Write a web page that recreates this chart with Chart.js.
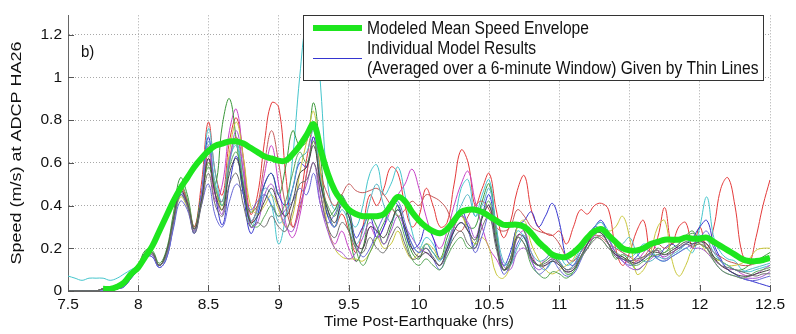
<!DOCTYPE html>
<html>
<head>
<meta charset="utf-8">
<script src="https://cdn.jsdelivr.net/npm/chart.js@4.4.1/dist/chart.umd.min.js"></script>
<style>
  html, body { margin: 0; padding: 0; background: #fff; }
  #wrap { width: 796px; height: 334px; }
</style>
</head>
<body>
<div id="wrap"><canvas id="chart-1" width="796" height="334"></canvas></div>
<script>
// time axis, hours post-earthquake, 0.05 h steps
const times = [7.5,7.55,7.6,7.65,7.7,7.75,7.8,7.85,7.9,7.95,
  8.0,8.05,8.1,8.15,8.2,8.25,8.3,8.35,8.4,8.45,
  8.5,8.55,8.6,8.65,8.7,8.75,8.8,8.85,8.9,8.95,
  9.0,9.05,9.1,9.15,9.2,9.25,9.3,9.35,9.4,9.45,
  9.5,9.55,9.6,9.65,9.7,9.75,9.8,9.85,9.9,9.95,
  10.0,10.05,10.1,10.15,10.2,10.25,10.3,10.35,10.4,10.45,
  10.5,10.55,10.6,10.65,10.7,10.75,10.8,10.85,10.9,10.95,
  11.0,11.05,11.1,11.15,11.2,11.25,11.3,11.35,11.4,11.45,
  11.5,11.55,11.6,11.65,11.7,11.75,11.8,11.85,11.9,11.95,
  12.0,12.05,12.1,12.15,12.2,12.25,12.3,12.35,12.4,12.45,12.5];

const xTicks = [7.5, 8, 8.5, 9, 9.5, 10, 10.5, 11, 11.5, 12, 12.5];
const yTicks = [0, 0.2, 0.4, 0.6, 0.8, 1, 1.2];

// modeled mean speed envelope (thick green)
const meanSpeed = [null,null,null,null,null,0.01,0.01,0.02,0.04,0.08,
  0.11,0.16,0.21,0.28,0.35,0.42,0.48,0.53,0.58,0.62,
  0.655,0.68,0.69,0.70,0.70,0.69,0.67,0.65,0.63,0.62,
  0.61,0.61,0.64,0.68,0.73,0.78,0.66,0.55,0.47,0.42,
  0.38,0.36,0.35,0.35,0.35,0.36,0.40,0.44,0.42,0.37,
  0.33,0.30,0.28,0.27,0.29,0.33,0.37,0.38,0.38,0.37,
  0.35,0.33,0.31,0.31,0.31,0.30,0.27,0.23,0.20,0.17,
  0.16,0.16,0.18,0.21,0.25,0.28,0.29,0.26,0.23,0.20,
  0.19,0.19,0.20,0.22,0.23,0.24,0.24,0.24,0.25,0.245,
  0.245,0.25,0.23,0.21,0.19,0.17,0.15,0.14,0.14,0.145,0.155];

// individual model results (thin lines)
const runRed = [0,0,0,0,0,0.01,0.01,0.01,0.03,0.07,
  0.11,0.18,0.17,0.12,0.18,0.34,0.49,0.42,0.30,0.50,
  0.79,0.55,0.45,0.70,0.81,0.62,0.36,0.45,0.70,0.88,
  0.86,0.55,0.30,0.42,0.62,0.76,0.55,0.38,0.30,0.36,
  0.28,0.18,0.30,0.45,0.40,0.48,0.58,0.55,0.40,0.30,
  0.35,0.48,0.40,0.30,0.32,0.50,0.66,0.60,0.40,0.48,
  0.55,0.38,0.25,0.32,0.47,0.54,0.38,0.30,0.27,0.26,
  0.28,0.22,0.30,0.38,0.36,0.40,0.41,0.38,0.20,0.12,
  0.18,0.28,0.33,0.18,0.25,0.39,0.22,0.30,0.32,0.20,
  0.30,0.20,0.30,0.48,0.53,0.40,0.18,0.13,0.25,0.40,0.52];

const runGreen = [0,0,0,0,0,0.01,0.01,0.01,0.03,0.08,
  0.12,0.19,0.19,0.13,0.19,0.36,0.53,0.45,0.30,0.45,
  0.58,0.50,0.78,0.90,0.70,0.45,0.37,0.40,0.50,0.55,
  0.45,0.58,0.75,0.68,0.70,0.88,0.62,0.35,0.38,0.45,
  0.30,0.14,0.20,0.35,0.30,0.22,0.30,0.40,0.28,0.18,
  0.15,0.22,0.18,0.15,0.25,0.33,0.36,0.30,0.30,0.42,
  0.50,0.28,0.10,0.15,0.30,0.28,0.15,0.12,0.14,0.16,
  0.13,0.08,0.09,0.15,0.22,0.28,0.27,0.22,0.15,0.17,
  0.14,0.10,0.12,0.16,0.20,0.18,0.22,0.24,0.26,0.28,
  0.22,0.20,0.16,0.14,0.12,0.10,0.10,0.12,0.14,0.16,0.18];

const runMagenta = [0,0,0,0,0,0.01,0.01,0.01,0.03,0.07,
  0.11,0.17,0.17,0.12,0.17,0.33,0.47,0.41,0.29,0.42,
  0.62,0.42,0.50,0.75,0.85,0.60,0.33,0.38,0.55,0.68,
  0.50,0.32,0.25,0.35,0.55,0.72,0.45,0.30,0.22,0.28,
  0.20,0.14,0.20,0.30,0.25,0.30,0.38,0.45,0.50,0.57,
  0.48,0.35,0.25,0.20,0.28,0.40,0.50,0.56,0.42,0.30,
  0.20,0.15,0.10,0.12,0.25,0.28,0.18,0.12,0.15,0.18,
  0.14,0.10,0.12,0.18,0.22,0.25,0.24,0.20,0.17,0.15,
  0.13,0.14,0.18,0.22,0.19,0.15,0.17,0.22,0.26,0.24,
  0.25,0.20,0.15,0.12,0.10,0.10,0.08,0.07,0.08,0.10,0.12];

const runCyan = [0.07,0.06,0.05,0.06,0.06,0.06,0.05,0.06,0.08,0.10,
  0.12,0.17,0.17,0.12,0.17,0.32,0.46,0.40,0.28,0.45,
  0.76,0.55,0.40,0.60,0.70,0.50,0.30,0.36,0.45,0.40,
  0.22,0.35,0.62,1.00,1.28,1.36,0.95,0.50,0.38,0.45,
  0.35,0.30,0.40,0.55,0.59,0.45,0.50,0.58,0.45,0.28,
  0.20,0.25,0.22,0.15,0.18,0.30,0.48,0.52,0.35,0.45,
  0.52,0.30,0.12,0.15,0.28,0.25,0.15,0.12,0.10,0.14,
  0.16,0.12,0.14,0.20,0.26,0.30,0.32,0.28,0.22,0.18,
  0.16,0.18,0.22,0.20,0.15,0.14,0.16,0.18,0.20,0.18,
  0.30,0.44,0.25,0.18,0.15,0.14,0.10,0.09,0.10,0.11,0.12];

const runBlue = [0,0,0,0,0,0,0,0.01,0.02,0.06,
  0.10,0.16,0.16,0.11,0.15,0.30,0.45,0.40,0.27,0.45,
  0.72,0.45,0.31,0.50,0.63,0.45,0.27,0.35,0.50,0.55,
  0.45,0.40,0.48,0.60,0.58,0.72,0.50,0.35,0.30,0.42,
  0.38,0.25,0.30,0.35,0.25,0.30,0.42,0.40,0.28,0.20,
  0.22,0.30,0.25,0.15,0.20,0.30,0.38,0.30,0.20,0.35,
  0.45,0.25,0.12,0.18,0.30,0.33,0.37,0.30,0.35,0.41,
  0.32,0.15,0.12,0.18,0.25,0.30,0.33,0.25,0.18,0.15,
  0.14,0.16,0.20,0.18,0.16,0.20,0.22,0.20,0.22,0.25,
  0.30,0.33,0.22,0.15,0.10,0.08,0.06,0.05,0.04,0.03,0.02];

const runYellow = [0,0,0,0,0,0.01,0.01,0.01,0.03,0.07,
  0.11,0.17,0.17,0.12,0.16,0.31,0.44,0.39,0.28,0.42,
  0.60,0.48,0.38,0.65,0.79,0.62,0.40,0.36,0.40,0.45,
  0.38,0.30,0.35,0.55,0.70,0.84,0.55,0.30,0.20,0.16,
  0.15,0.15,0.14,0.18,0.25,0.20,0.22,0.28,0.20,0.15,
  0.18,0.22,0.20,0.15,0.22,0.30,0.35,0.28,0.22,0.25,
  0.20,0.08,0.06,0.12,0.30,0.33,0.22,0.15,0.10,0.08,
  0.10,0.12,0.15,0.22,0.25,0.28,0.30,0.28,0.30,0.35,
  0.25,0.08,0.10,0.18,0.30,0.33,0.15,0.07,0.12,0.20,
  0.22,0.18,0.15,0.14,0.12,0.12,0.13,0.15,0.19,0.20,0.20];

const runGray = [0,0,0,0,0,0.01,0.01,0.01,0.03,0.07,
  0.11,0.18,0.18,0.12,0.17,0.32,0.45,0.40,0.27,0.40,
  0.55,0.40,0.35,0.50,0.55,0.40,0.30,0.32,0.30,0.35,
  0.30,0.28,0.38,0.50,0.52,0.60,0.45,0.30,0.25,0.32,
  0.28,0.20,0.18,0.25,0.20,0.18,0.25,0.30,0.22,0.15,
  0.16,0.20,0.16,0.12,0.18,0.25,0.28,0.22,0.20,0.30,
  0.35,0.20,0.10,0.15,0.25,0.22,0.15,0.12,0.13,0.15,
  0.13,0.10,0.11,0.16,0.20,0.24,0.26,0.22,0.16,0.15,
  0.14,0.15,0.16,0.18,0.19,0.17,0.18,0.20,0.22,0.21,
  0.22,0.20,0.15,0.12,0.11,0.10,0.09,0.08,0.07,0.08,0.08];

const runBrown = [0,0,0,0,0,0.01,0.01,0.01,0.03,0.07,
  0.11,0.17,0.17,0.12,0.17,0.33,0.48,0.42,0.30,0.42,
  0.65,0.45,0.42,0.62,0.72,0.55,0.32,0.40,0.60,0.75,
  0.60,0.40,0.30,0.38,0.55,0.70,0.55,0.45,0.40,0.45,
  0.50,0.47,0.46,0.47,0.48,0.45,0.40,0.35,0.38,0.42,
  0.40,0.45,0.44,0.42,0.38,0.30,0.28,0.35,0.40,0.42,
  0.38,0.30,0.28,0.30,0.38,0.35,0.30,0.28,0.27,0.26,
  0.22,0.16,0.14,0.18,0.22,0.26,0.25,0.22,0.20,0.18,
  0.16,0.14,0.16,0.20,0.22,0.20,0.22,0.24,0.26,0.25,
  0.24,0.22,0.18,0.16,0.14,0.13,0.12,0.12,0.13,0.14,0.15];

const runViolet = [0,0,0,0,0,0,0.01,0.01,0.02,0.06,
  0.10,0.16,0.16,0.11,0.15,0.29,0.42,0.38,0.27,0.40,
  0.50,0.35,0.30,0.42,0.50,0.45,0.38,0.42,0.45,0.40,
  0.35,0.38,0.42,0.48,0.45,0.55,0.40,0.32,0.36,0.42,
  0.35,0.22,0.16,0.20,0.28,0.35,0.40,0.42,0.32,0.22,
  0.18,0.20,0.15,0.10,0.18,0.28,0.32,0.28,0.18,0.26,
  0.35,0.22,0.08,0.12,0.22,0.26,0.15,0.08,0.10,0.14,
  0.10,0.07,0.08,0.14,0.22,0.30,0.28,0.22,0.17,0.14,
  0.12,0.13,0.15,0.17,0.15,0.14,0.16,0.18,0.20,0.22,
  0.25,0.28,0.20,0.14,0.10,0.08,0.06,0.05,0.05,0.06,0.07];

const runGreen2 = [0,0,0,0,0,0.01,0.01,0.01,0.03,0.08,
  0.12,0.18,0.18,0.12,0.18,0.34,0.50,0.43,0.29,0.42,
  0.60,0.48,0.40,0.58,0.65,0.50,0.32,0.30,0.35,0.40,
  0.35,0.42,0.55,0.65,0.60,0.70,0.50,0.40,0.35,0.44,
  0.38,0.20,0.12,0.18,0.25,0.32,0.38,0.35,0.25,0.15,
  0.12,0.15,0.12,0.10,0.16,0.22,0.25,0.20,0.22,0.35,
  0.42,0.25,0.10,0.12,0.25,0.22,0.12,0.08,0.06,0.09,
  0.08,0.06,0.09,0.15,0.20,0.25,0.24,0.20,0.18,0.16,
  0.13,0.12,0.14,0.16,0.17,0.18,0.20,0.22,0.25,0.27,
  0.24,0.20,0.14,0.10,0.08,0.07,0.06,0.07,0.09,0.10,0.11];

const runPurple = [0,0,0,0,0,0.01,0.01,0.01,0.03,0.07,
  0.11,0.17,0.17,0.12,0.17,0.32,0.46,0.40,0.28,0.44,
  0.68,0.45,0.36,0.60,0.75,0.55,0.30,0.32,0.45,0.50,
  0.40,0.30,0.28,0.40,0.50,0.60,0.40,0.28,0.20,0.18,
  0.15,0.18,0.25,0.32,0.28,0.22,0.28,0.35,0.30,0.25,
  0.20,0.18,0.15,0.12,0.20,0.30,0.35,0.32,0.25,0.35,
  0.40,0.25,0.12,0.10,0.18,0.20,0.14,0.10,0.12,0.15,
  0.12,0.09,0.10,0.15,0.20,0.26,0.28,0.24,0.18,0.14,
  0.11,0.10,0.12,0.15,0.17,0.16,0.18,0.20,0.22,0.20,
  0.20,0.18,0.14,0.10,0.08,0.07,0.06,0.06,0.06,0.07,0.09];

const runTeal = [0,0,0,0,0,0.01,0.01,0.01,0.03,0.07,
  0.11,0.17,0.17,0.12,0.16,0.31,0.45,0.40,0.28,0.44,
  0.70,0.50,0.42,0.62,0.68,0.50,0.33,0.38,0.48,0.45,
  0.32,0.35,0.48,0.62,0.65,0.75,0.52,0.38,0.30,0.38,
  0.32,0.22,0.28,0.42,0.50,0.40,0.32,0.38,0.30,0.22,
  0.18,0.22,0.18,0.14,0.22,0.32,0.40,0.45,0.35,0.40,
  0.48,0.30,0.14,0.12,0.20,0.25,0.18,0.14,0.15,0.18,
  0.14,0.10,0.12,0.18,0.24,0.30,0.32,0.25,0.20,0.22,
  0.25,0.18,0.14,0.14,0.16,0.15,0.17,0.19,0.22,0.24,
  0.26,0.24,0.18,0.14,0.12,0.10,0.09,0.10,0.11,0.12,0.13];

const runDark = [0,0,0,0,0,0.01,0.01,0.01,0.03,0.07,
  0.11,0.18,0.18,0.12,0.18,0.33,0.47,0.41,0.29,0.42,
  0.62,0.45,0.38,0.55,0.62,0.48,0.32,0.35,0.42,0.48,
  0.40,0.35,0.42,0.55,0.58,0.68,0.50,0.38,0.32,0.40,
  0.35,0.22,0.20,0.30,0.28,0.25,0.32,0.38,0.30,0.20,
  0.16,0.18,0.15,0.12,0.20,0.28,0.32,0.28,0.24,0.34,
  0.40,0.22,0.10,0.13,0.26,0.25,0.16,0.12,0.12,0.14,
  0.12,0.09,0.10,0.16,0.22,0.27,0.27,0.22,0.17,0.16,
  0.14,0.13,0.15,0.18,0.18,0.17,0.19,0.21,0.23,0.22,
  0.23,0.22,0.16,0.12,0.10,0.08,0.07,0.07,0.08,0.09,0.10];

const runs = [
  [runGray, '#6e6e6e'], [runDark, '#454545'], [runGreen2, '#5aa85a'],
  [runPurple, '#a455d0'], [runViolet, '#6565d5'], [runTeal, '#55b5c5'],
  [runYellow, '#c8c63c'], [runBrown, '#c45858'], [runBlue, '#3535d0'],
  [runGreen, '#3a983a'], [runMagenta, '#c642c6'], [runCyan, '#45c5cc'],
  [runRed, '#e43a3a']
];

function pts(vals) {
  return times.map((t, i) => ({x: t, y: vals[i]}));
}

const datasets = [{
  label: 'Modeled Mean Speed Envelope',
  data: pts(meanSpeed),
  borderColor: '#1ee61e',
  borderWidth: 6,
  pointRadius: 0,
  tension: 0.4,
  order: 0
}];
runs.forEach(r => {
  datasets.push({
    label: 'run',
    data: pts(r[0]),
    borderColor: r[1],
    borderWidth: 1,
    pointRadius: 0,
    tension: 0.4,
    order: 1
  });
});

const fam = '"Liberation Sans", Arial, sans-serif';

// text drawn a little taller than wide, like the reference
function tallText(c, str, x, y, sx, sy) {
  c.save();
  c.translate(x, y);
  c.scale(sx, sy);
  c.fillText(str, 0, 0);
  c.restore();
}

// MATLAB-style inward ticks, y title, legend box and panel label
const extras = {
  id: 'extras',
  afterDraw(chart) {
    const c = chart.ctx, a = chart.chartArea;
    const xs = chart.scales.x, ys = chart.scales.y;
    c.save();
    c.strokeStyle = '#555';
    c.lineWidth = 1;
    c.beginPath();
    xTicks.forEach(v => {
      const px = Math.round(xs.getPixelForValue(v)) + 0.5;
      c.moveTo(px, a.bottom); c.lineTo(px, a.bottom - 6);
    });
    yTicks.forEach(v => {
      const py = Math.round(ys.getPixelForValue(v)) + 0.5;
      c.moveTo(a.left, py); c.lineTo(a.left + 6, py);
    });
    c.stroke();

    c.fillStyle = '#111';
    c.textBaseline = 'middle';
    c.textAlign = 'center';
    c.font = '15px ' + fam;
    // y axis title, rotated and stretched along its length
    c.save();
    c.translate(17, 153);
    c.rotate(-Math.PI / 2);
    c.scale(1.2, 1);
    c.fillText('Speed (m/s) at ADCP HA26', 0, 0);
    c.restore();

    // legend
    const lx = 303, ly = 15, lw = 460, lh = 65;
    c.fillStyle = '#fff';
    c.fillRect(lx, ly, lw, lh);
    c.strokeStyle = '#333';
    c.strokeRect(lx + 0.5, ly + 0.5, lw, lh);
    c.lineWidth = 6;
    c.strokeStyle = '#1ee61e';
    c.beginPath(); c.moveTo(313, 28); c.lineTo(362, 28); c.stroke();
    c.lineWidth = 1;
    c.strokeStyle = '#3535d0';
    c.beginPath(); c.moveTo(313, 58.5); c.lineTo(362, 58.5); c.stroke();
    c.fillStyle = '#111';
    c.font = '15.6px ' + fam;
    c.textAlign = 'left';
    tallText(c, 'Modeled Mean Speed Envelope', 367, 29, 1, 1.12);
    tallText(c, 'Individual Model Results', 367, 49.5, 1, 1.12);
    tallText(c, '(Averaged over a 6-minute Window) Given by Thin Lines', 367, 69, 1, 1.12);
    c.font = '15px ' + fam;
    tallText(c, 'b)', 81, 52, 1, 1.12);
    c.restore();
  }
};

new Chart(document.getElementById('chart-1'), {
  type: 'line',
  data: {datasets: datasets},
  options: {
    responsive: false,
    animation: false,
    layout: {padding: {top: 8, right: 26, left: 0, bottom: 0}},
    plugins: {legend: {display: false}, tooltip: {enabled: false}},
    scales: {
      x: {
        type: 'linear',
        min: 7.5, max: 12.5,
        afterFit: s => { s.height = 43; },
        afterBuildTicks: s => { s.ticks = xTicks.map(v => ({value: v})); },
        ticks: {font: {family: fam, size: 15.5}, color: '#111', padding: 4, maxRotation: 0,
          callback: v => String(v)},
        grid: {color: '#a8a8a8', drawTicks: false},
        border: {color: '#666', dash: [1, 2]},
        title: {display: true, text: 'Time Post-Earthquake (hrs)', font: {family: fam, size: 15.5}, color: '#111', padding: {top: 0, bottom: 3}}
      },
      y: {
        min: 0, max: 1.29,
        afterFit: s => { s.width = 68; },
        afterBuildTicks: s => { s.ticks = yTicks.map(v => ({value: v})); },
        ticks: {font: {family: fam, size: 15.5}, color: '#111', padding: 6,
          callback: v => String(v)},
        grid: {color: '#a8a8a8', drawTicks: false},
        border: {color: '#666', dash: [1, 2]},
        title: {display: false}
      }
    }
  },
  plugins: [extras]
});
</script>
</body>
</html>
